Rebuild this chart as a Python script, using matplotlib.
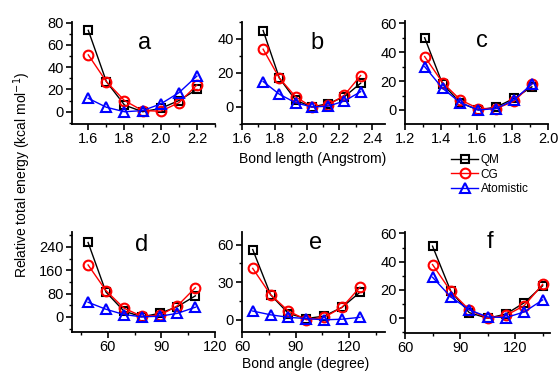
import matplotlib
matplotlib.use("Agg")
import matplotlib.pyplot as plt
from matplotlib.ticker import MultipleLocator
from matplotlib.lines import Line2D

plt.rcParams['font.family'] = ['Liberation Sans', 'DejaVu Sans']

# x positions of the scan points for each panel
x_a = [1.6, 1.7, 1.8, 1.9, 2.0, 2.1, 2.2]
x_b = [1.73, 1.83, 1.93, 2.03, 2.13, 2.23, 2.33]
x_c = [1.31, 1.41, 1.51, 1.61, 1.71, 1.81, 1.91]
x_d = [49, 59, 69, 79, 89, 99, 109]
x_e = [66, 76, 86, 96, 106, 116, 126]
x_f = [75, 85, 95, 105, 115, 125, 135]

# relative energies (kcal/mol)
qm_a = [73, 27, 6, 0, 3, 10, 20]
cg_a = [51, 27, 10, 1, 0.5, 8, 24]
at_a = [12, 4, 0, 1, 7, 17, 32]

qm_b = [45, 17, 4, 0, 2, 6, 14]
cg_b = [34, 17, 6, 0, 1, 7, 18.5]
at_b = [15, 7.5, 2.5, 0, 0.5, 3.5, 9]

qm_c = [50, 18, 5, 0, 2, 8, 16]
cg_c = [37, 19, 7, 1, 1, 6, 18]
at_c = [30, 15, 5, 0, 1, 7, 18]

qm_d = [255, 85, 20, 0, 12, 35, 72]
cg_d = [178, 90, 30, 2, 5, 38, 100]
at_d = [50, 26, 8, 0, 2, 12, 33]

qm_e = [56, 20, 5, 1, 3, 10, 22]
cg_e = [41, 20, 7, 0, 2, 10, 26]
at_e = [7, 4, 2, 1, 0, 0.5, 2]

qm_f = [51, 19, 4, 0, 3, 11, 23]
cg_f = [38, 19, 6, 0, 2, 9, 24]
at_f = [29, 15, 6, 1, 0.5, 4.5, 13]

labels = ["a", "b", "c", "d", "e", "f"]

W, H = 558, 372
fig = plt.figure(figsize=(W / 100, H / 100), dpi=100)


def px_rect(x0, y0, x1, y1):
    return [x0 / W, 1 - y1 / H, (x1 - x0) / W, (y1 - y0) / H]


panels = [
    # rect in pixels, xlim, ylim, x major/minor, y major/minor, letter pos
    (px_rect(72, 22, 215, 124), (1.51, 2.3), (-11, 80.5), (0.2, 0.1), (20, 10), (145, 43),
     x_a, qm_a, cg_a, at_a),
    (px_rect(242, 22, 385, 124), (1.6, 2.48), (-10, 50), (0.2, 0.1), (20, 10), (317, 43),
     x_b, qm_b, cg_b, at_b),
    (px_rect(405, 21, 548, 124), (1.2, 2.0), (-9.7, 61.6), (0.2, 0.1), (20, 10), (482, 41),
     x_c, qm_c, cg_c, at_c),
    (px_rect(72, 232, 215, 332), (40, 120), (-52, 291), (30, 15), (80, 40), (142, 245),
     x_d, qm_d, cg_d, at_d),
    (px_rect(242, 232, 385, 332), (60, 140), (-9.7, 70), (30, 15), (30, 15), (316, 243),
     x_e, qm_e, cg_e, at_e),
    (px_rect(405, 232, 550, 333), (60, 139), (-10.4, 61), (30, 15), (20, 10), (490, 242),
     x_f, qm_f, cg_f, at_f),
]

mk = dict(markerfacecolor='none', markeredgewidth=1.5, linewidth=1.0)

for i, (rect, xl, yl, xt, yt, lp, xs, qm, cg, at) in enumerate(panels):
    ax = fig.add_axes(rect)
    ax.plot(xs, qm, '-s', color='black', markersize=5.5, **mk, zorder=3)
    ax.plot(xs, cg, '-o', color='red', markersize=7, **mk, zorder=4)
    ax.plot(xs, at, '-^', color='blue', markersize=7.5, **mk, zorder=5)
    ax.set_xlim(*xl)
    ax.set_ylim(*yl)
    ax.xaxis.set_major_locator(MultipleLocator(xt[0]))
    ax.xaxis.set_minor_locator(MultipleLocator(xt[1]))
    ax.yaxis.set_major_locator(MultipleLocator(yt[0]))
    ax.yaxis.set_minor_locator(MultipleLocator(yt[1]))
    if xt[0] < 1:
        ax.xaxis.set_major_formatter(plt.FormatStrFormatter('%.1f'))
    for s in ['top', 'right']:
        ax.spines[s].set_visible(False)
    for s in ['left', 'bottom']:
        ax.spines[s].set_linewidth(1.3)
    ax.tick_params(which='major', direction='out', length=4, width=1.2,
                   labelsize=10.5, pad=2)
    ax.tick_params(which='minor', direction='out', length=2.5, width=1.0)
    fig.text(lp[0] / W, 1 - lp[1] / H, labels[i], fontsize=17,
             ha='center', va='center')

fig.text(22 / W, 1 - 175 / H, "Relative total energy (kcal mol$^{-1}$)",
         rotation=90, ha='center', va='center', fontsize=10)
fig.text(313 / W, 1 - 159 / H, "Bond length (Angstrom)",
         ha='center', va='center', fontsize=10)
fig.text(306 / W, 1 - 364 / H, "Bond angle (degree)",
         ha='center', va='center', fontsize=10)

handles = [
    Line2D([], [], color='black', marker='s', markersize=5.5, **mk),
    Line2D([], [], color='red', marker='o', markersize=7, **mk),
    Line2D([], [], color='blue', marker='^', markersize=7.5, **mk),
]
fig.legend(handles, ["QM", "CG", "Atomistic"], loc='center',
           bbox_to_anchor=(490 / W, 1 - 174.5 / H), frameon=False,
           fontsize=8.5, handlelength=2.3, handletextpad=0.2, labelspacing=0.2)

fig.savefig("out.png", dpi=100)
